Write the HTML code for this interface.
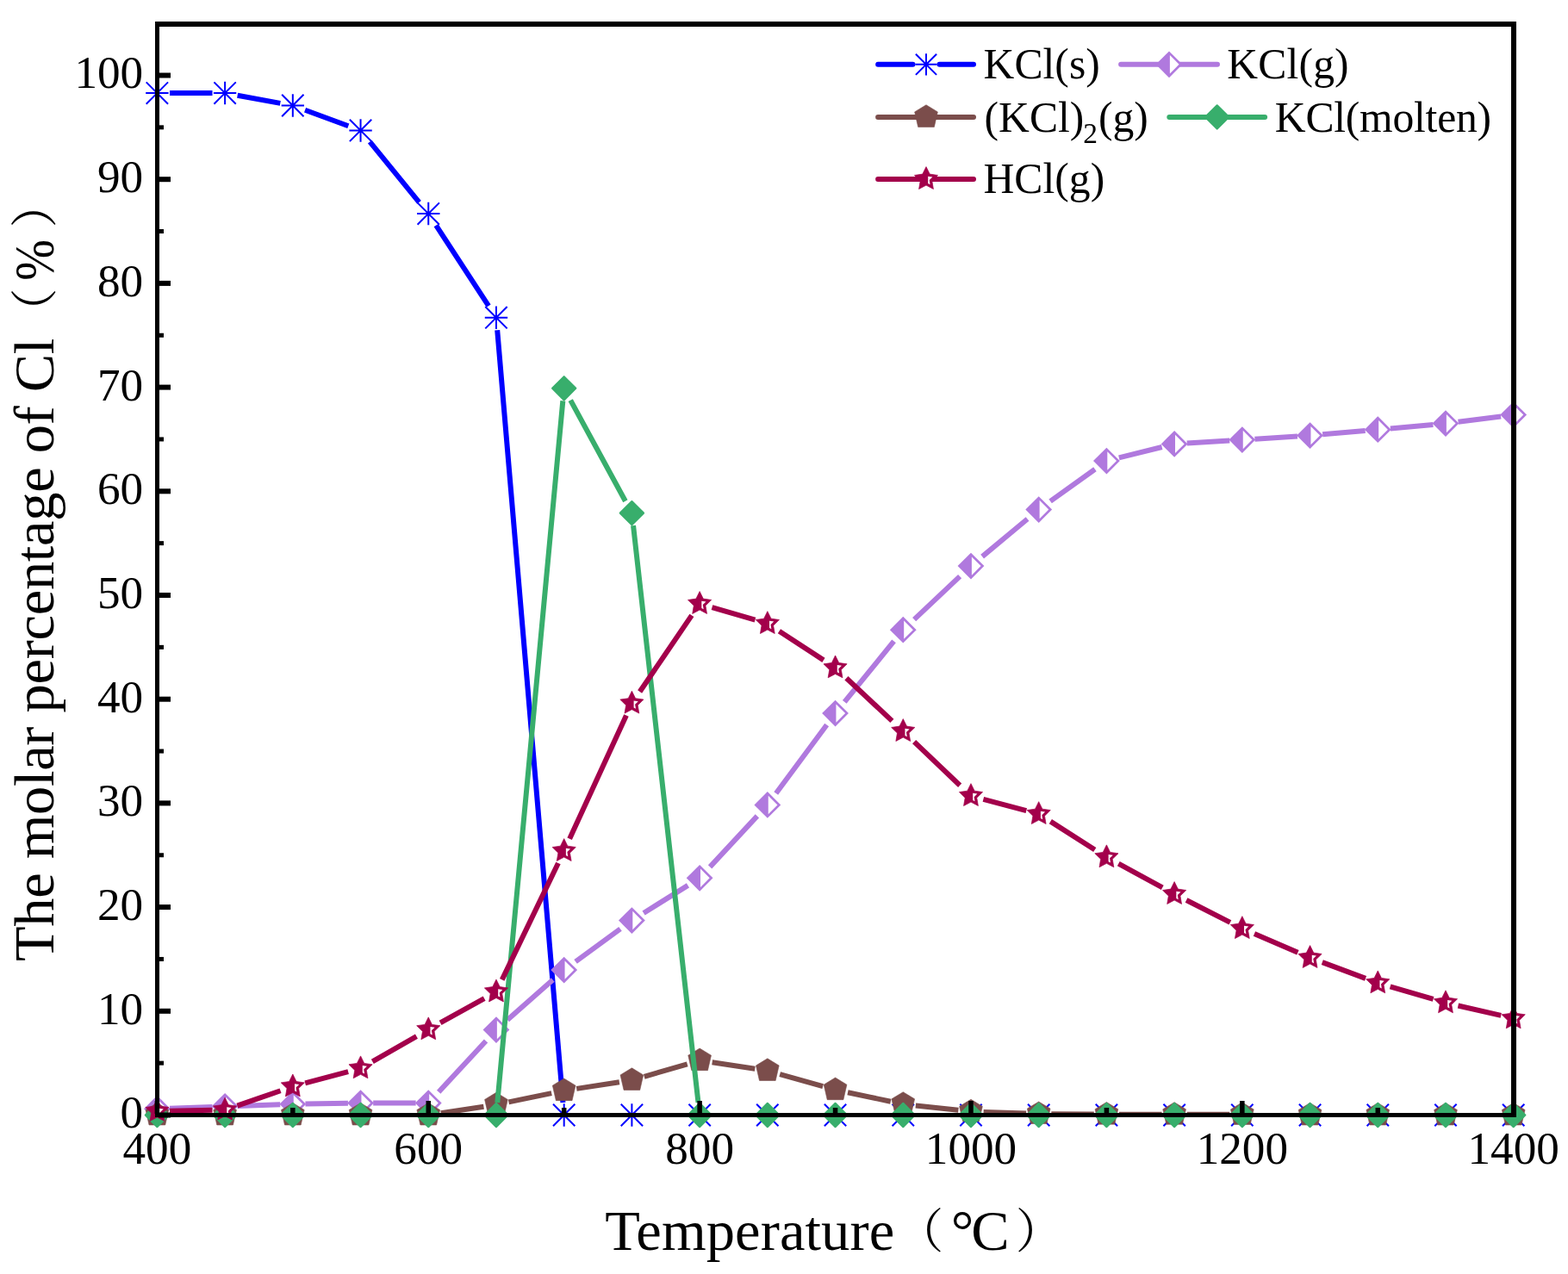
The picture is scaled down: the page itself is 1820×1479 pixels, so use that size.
<!DOCTYPE html>
<html><head><meta charset="utf-8"><title>Molar percentage of Cl vs Temperature</title>
<style>html,body{margin:0;padding:0;background:#fff;}svg{display:block;}</style>
</head><body>
<svg width="1820" height="1479" viewBox="0 0 1820 1479"><rect x="0" y="0" width="1820" height="1479" fill="#fff"/>
<defs><clipPath id="pa"><rect x="182.4" y="27.15" width="1574.3" height="1267.35"/></clipPath></defs>
<path d="M197 108.02L246.52 108.02M275.62 110.69L325.33 119.83M354.06 127.74L404.31 146.23M429.29 164.66L486.51 234.85M506.13 261.63L567.11 355.13M577.21 383.31L653.45 1279.92" stroke="#0000ff" stroke-width="6.0" stroke-linecap="butt" fill="none" clip-path="url(#pa)"/>
<path d="M169.2 108.02L195.6 108.02M182.4 94.82L182.4 121.22M169.73 95.35L195.07 120.69M169.73 120.69L195.07 95.35" stroke="#0000ff" stroke-width="2.0" fill="none"/>
<path d="M247.92 108.02L274.31 108.02M261.12 94.82L261.12 121.22M248.44 95.35L273.79 120.69M248.44 120.69L273.79 95.35" stroke="#0000ff" stroke-width="2.0" fill="none"/>
<path d="M326.63 122.5L353.03 122.5M339.83 109.3L339.83 135.7M327.16 109.83L352.5 135.17M327.16 135.17L352.5 109.83" stroke="#0000ff" stroke-width="2.0" fill="none"/>
<path d="M405.35 151.47L431.75 151.47M418.55 138.27L418.55 164.67M405.87 138.8L431.22 164.14M405.87 164.14L431.22 138.8" stroke="#0000ff" stroke-width="2.0" fill="none"/>
<path d="M484.06 248.03L510.46 248.03M497.26 234.83L497.26 261.23M484.59 235.36L509.93 260.7M484.59 260.7L509.93 235.36" stroke="#0000ff" stroke-width="2.0" fill="none"/>
<path d="M562.77 368.73L589.18 368.73M575.98 355.53L575.98 381.93M563.3 356.06L588.65 381.4M563.3 381.4L588.65 356.06" stroke="#0000ff" stroke-width="2.0" fill="none"/>
<path d="M641.49 1294.5L667.89 1294.5M654.69 1281.3L654.69 1307.7M642.02 1281.83L667.36 1307.17M642.02 1307.17L667.36 1281.83" stroke="#0000ff" stroke-width="2.0" fill="none"/>
<path d="M720.2 1294.5L746.61 1294.5M733.4 1281.3L733.4 1307.7M720.73 1281.83L746.08 1307.17M720.73 1307.17L746.08 1281.83" stroke="#0000ff" stroke-width="2.0" fill="none"/>
<path d="M798.92 1294.5L825.32 1294.5M812.12 1281.3L812.12 1307.7M799.45 1281.83L824.79 1307.17M799.45 1307.17L824.79 1281.83" stroke="#0000ff" stroke-width="2.0" fill="none"/>
<path d="M877.63 1294.5L904.03 1294.5M890.83 1281.3L890.83 1307.7M878.16 1281.83L903.51 1307.17M878.16 1307.17L903.51 1281.83" stroke="#0000ff" stroke-width="2.0" fill="none"/>
<path d="M956.35 1294.5L982.75 1294.5M969.55 1281.3L969.55 1307.7M956.88 1281.83L982.22 1307.17M956.88 1307.17L982.22 1281.83" stroke="#0000ff" stroke-width="2.0" fill="none"/>
<path d="M1035.07 1294.5L1061.47 1294.5M1048.27 1281.3L1048.27 1307.7M1035.59 1281.83L1060.94 1307.17M1035.59 1307.17L1060.94 1281.83" stroke="#0000ff" stroke-width="2.0" fill="none"/>
<path d="M1113.78 1294.5L1140.18 1294.5M1126.98 1281.3L1126.98 1307.7M1114.31 1281.83L1139.65 1307.17M1114.31 1307.17L1139.65 1281.83" stroke="#0000ff" stroke-width="2.0" fill="none"/>
<path d="M1192.49 1294.5L1218.89 1294.5M1205.69 1281.3L1205.69 1307.7M1193.02 1281.83L1218.37 1307.17M1193.02 1307.17L1218.37 1281.83" stroke="#0000ff" stroke-width="2.0" fill="none"/>
<path d="M1271.21 1294.5L1297.61 1294.5M1284.41 1281.3L1284.41 1307.7M1271.74 1281.83L1297.08 1307.17M1271.74 1307.17L1297.08 1281.83" stroke="#0000ff" stroke-width="2.0" fill="none"/>
<path d="M1349.92 1294.5L1376.33 1294.5M1363.12 1281.3L1363.12 1307.7M1350.45 1281.83L1375.8 1307.17M1350.45 1307.17L1375.8 1281.83" stroke="#0000ff" stroke-width="2.0" fill="none"/>
<path d="M1428.64 1294.5L1455.04 1294.5M1441.84 1281.3L1441.84 1307.7M1429.17 1281.83L1454.51 1307.17M1429.17 1307.17L1454.51 1281.83" stroke="#0000ff" stroke-width="2.0" fill="none"/>
<path d="M1507.36 1294.5L1533.76 1294.5M1520.56 1281.3L1520.56 1307.7M1507.88 1281.83L1533.23 1307.17M1507.88 1307.17L1533.23 1281.83" stroke="#0000ff" stroke-width="2.0" fill="none"/>
<path d="M1586.07 1294.5L1612.47 1294.5M1599.27 1281.3L1599.27 1307.7M1586.6 1281.83L1611.94 1307.17M1586.6 1307.17L1611.94 1281.83" stroke="#0000ff" stroke-width="2.0" fill="none"/>
<path d="M1664.79 1294.5L1691.19 1294.5M1677.99 1281.3L1677.99 1307.7M1665.31 1281.83L1690.66 1307.17M1665.31 1307.17L1690.66 1281.83" stroke="#0000ff" stroke-width="2.0" fill="none"/>
<path d="M1743.5 1294.5L1769.9 1294.5M1756.7 1281.3L1756.7 1307.7M1744.03 1281.83L1769.37 1307.17M1744.03 1307.17L1769.37 1281.83" stroke="#0000ff" stroke-width="2.0" fill="none"/>
<path d="M197 1286.72L246.52 1284.9M275.71 1283.89L325.23 1282.3M354.43 1281.6L403.95 1280.84M433.15 1280.62L482.66 1280.62M509.19 1267.72L564.04 1208.43M588.99 1184.05L641.68 1137.6M668.09 1116.32L720 1078.35M747.07 1060L798.45 1027.85M824.08 1006.41L878.87 947.35M900.74 921.07L959.65 841.49M980.26 814.92L1037.55 744.39M1061.12 719.09L1114.12 669.19M1140.12 646.14L1192.55 602.48M1219.13 581.9L1270.97 544.7M1298.83 531.45L1348.7 518.99M1377.71 514.49L1427.25 511.45M1456.43 509.64L1505.97 506.52M1535.13 504.33L1584.69 500M1613.85 497.41L1663.41 492.92M1692.54 489.75L1742.15 483.44" stroke="#b079de" stroke-width="6.0" stroke-linecap="butt" fill="none" clip-path="url(#pa)"/>
<polygon points="182.4,1271.86 197.8,1287.26 182.4,1302.66 167,1287.26" fill="#b079de"/><polygon points="183.3,1276.58 193.98,1287.26 183.3,1297.94" fill="#fff"/>
<polygon points="261.12,1268.96 276.51,1284.36 261.12,1299.76 245.72,1284.36" fill="#b079de"/><polygon points="262.01,1273.68 272.7,1284.36 262.01,1295.04" fill="#fff"/>
<polygon points="339.83,1266.43 355.23,1281.83 339.83,1297.23 324.43,1281.83" fill="#b079de"/><polygon points="340.73,1271.14 351.41,1281.83 340.73,1292.51" fill="#fff"/>
<polygon points="418.55,1265.22 433.94,1280.62 418.55,1296.02 403.15,1280.62" fill="#b079de"/><polygon points="419.44,1269.94 430.13,1280.62 419.44,1291.3" fill="#fff"/>
<polygon points="497.26,1265.22 512.66,1280.62 497.26,1296.02 481.86,1280.62" fill="#b079de"/><polygon points="498.16,1269.94 508.84,1280.62 498.16,1291.3" fill="#fff"/>
<polygon points="575.98,1180.13 591.38,1195.53 575.98,1210.93 560.58,1195.53" fill="#b079de"/><polygon points="576.88,1184.84 587.56,1195.53 576.88,1206.21" fill="#fff"/>
<polygon points="654.69,1110.72 670.09,1126.12 654.69,1141.52 639.29,1126.12" fill="#b079de"/><polygon points="655.59,1115.44 666.27,1126.12 655.59,1136.81" fill="#fff"/>
<polygon points="733.4,1053.15 748.8,1068.55 733.4,1083.95 718,1068.55" fill="#b079de"/><polygon points="734.3,1057.87 744.99,1068.55 734.3,1079.23" fill="#fff"/>
<polygon points="812.12,1003.9 827.52,1019.3 812.12,1034.7 796.72,1019.3" fill="#b079de"/><polygon points="813.02,1008.62 823.7,1019.3 813.02,1029.99" fill="#fff"/>
<polygon points="890.83,919.05 906.23,934.45 890.83,949.85 875.43,934.45" fill="#b079de"/><polygon points="891.73,923.77 902.42,934.45 891.73,945.13" fill="#fff"/>
<polygon points="969.55,812.72 984.95,828.12 969.55,843.52 954.15,828.12" fill="#b079de"/><polygon points="970.45,817.43 981.13,828.12 970.45,838.8" fill="#fff"/>
<polygon points="1048.27,715.79 1063.67,731.19 1048.27,746.59 1032.87,731.19" fill="#b079de"/><polygon points="1049.17,720.51 1059.85,731.19 1049.17,741.87" fill="#fff"/>
<polygon points="1126.98,641.68 1142.38,657.08 1126.98,672.48 1111.58,657.08" fill="#b079de"/><polygon points="1127.88,646.4 1138.56,657.08 1127.88,667.76" fill="#fff"/>
<polygon points="1205.69,576.14 1221.1,591.54 1205.69,606.94 1190.29,591.54" fill="#b079de"/><polygon points="1206.6,580.86 1217.28,591.54 1206.6,602.22" fill="#fff"/>
<polygon points="1284.41,519.66 1299.81,535.06 1284.41,550.46 1269.01,535.06" fill="#b079de"/><polygon points="1285.31,524.37 1295.99,535.06 1285.31,545.74" fill="#fff"/>
<polygon points="1363.12,499.98 1378.53,515.38 1363.12,530.78 1347.72,515.38" fill="#b079de"/><polygon points="1364.03,504.7 1374.71,515.38 1364.03,526.06" fill="#fff"/>
<polygon points="1441.84,495.15 1457.24,510.55 1441.84,525.95 1426.44,510.55" fill="#b079de"/><polygon points="1442.74,499.87 1453.42,510.55 1442.74,521.24" fill="#fff"/>
<polygon points="1520.56,490.2 1535.96,505.6 1520.56,521 1505.15,505.6" fill="#b079de"/><polygon points="1521.46,494.92 1532.14,505.6 1521.46,516.29" fill="#fff"/>
<polygon points="1599.27,483.32 1614.67,498.72 1599.27,514.12 1583.87,498.72" fill="#b079de"/><polygon points="1600.17,488.04 1610.85,498.72 1600.17,509.41" fill="#fff"/>
<polygon points="1677.99,476.2 1693.39,491.6 1677.99,507 1662.59,491.6" fill="#b079de"/><polygon points="1678.89,480.92 1689.57,491.6 1678.89,502.29" fill="#fff"/>
<polygon points="1756.7,466.19 1772.1,481.59 1756.7,496.99 1741.3,481.59" fill="#b079de"/><polygon points="1757.6,470.9 1768.28,481.59 1757.6,492.27" fill="#fff"/>
<path d="M511.79 1292.27L561.44 1284.66M590.45 1279.43L640.21 1269.13M669.22 1263.89L718.87 1256.2M747.77 1249.78L797.75 1235.3M826.65 1233.32L876.3 1240.78M905.21 1247.02L955.17 1261.11M984.02 1268.23L1033.79 1278.76M1062.83 1283.41L1112.41 1288.81M1141.58 1290.89L1191.1 1292.56M1220.29 1293.16L1269.81 1293.54M1299.01 1293.68L1348.53 1293.75M1377.72 1293.8L1427.24 1293.87" stroke="#7b4d4b" stroke-width="6.0" stroke-linecap="butt" fill="none" clip-path="url(#pa)"/>
<polygon points="182.4,1280.4 195.75,1288.5 191.75,1306 173.05,1306 169.05,1288.5" fill="#7b4d4b" stroke="#7b4d4b" stroke-width="0.6" stroke-linejoin="round"/>
<polygon points="261.12,1280.4 274.47,1288.5 270.47,1306 251.77,1306 247.77,1288.5" fill="#7b4d4b" stroke="#7b4d4b" stroke-width="0.6" stroke-linejoin="round"/>
<polygon points="339.83,1280.4 353.18,1288.5 349.18,1306 330.48,1306 326.48,1288.5" fill="#7b4d4b" stroke="#7b4d4b" stroke-width="0.6" stroke-linejoin="round"/>
<polygon points="418.55,1280.4 431.9,1288.5 427.9,1306 409.19,1306 405.19,1288.5" fill="#7b4d4b" stroke="#7b4d4b" stroke-width="0.6" stroke-linejoin="round"/>
<polygon points="497.26,1280.4 510.61,1288.5 506.61,1306 487.91,1306 483.91,1288.5" fill="#7b4d4b" stroke="#7b4d4b" stroke-width="0.6" stroke-linejoin="round"/>
<polygon points="575.98,1268.33 589.33,1276.43 585.33,1293.93 566.62,1293.93 562.62,1276.43" fill="#7b4d4b" stroke="#7b4d4b" stroke-width="0.6" stroke-linejoin="round"/>
<polygon points="654.69,1252.04 668.04,1260.14 664.04,1277.64 645.34,1277.64 641.34,1260.14" fill="#7b4d4b" stroke="#7b4d4b" stroke-width="0.6" stroke-linejoin="round"/>
<polygon points="733.4,1239.84 746.75,1247.94 742.75,1265.44 724.05,1265.44 720.05,1247.94" fill="#7b4d4b" stroke="#7b4d4b" stroke-width="0.6" stroke-linejoin="round"/>
<polygon points="812.12,1217.03 825.47,1225.13 821.47,1242.63 802.77,1242.63 798.77,1225.13" fill="#7b4d4b" stroke="#7b4d4b" stroke-width="0.6" stroke-linejoin="round"/>
<polygon points="890.83,1228.86 904.18,1236.96 900.18,1254.46 881.48,1254.46 877.48,1236.96" fill="#7b4d4b" stroke="#7b4d4b" stroke-width="0.6" stroke-linejoin="round"/>
<polygon points="969.55,1251.07 982.9,1259.17 978.9,1276.67 960.2,1276.67 956.2,1259.17" fill="#7b4d4b" stroke="#7b4d4b" stroke-width="0.6" stroke-linejoin="round"/>
<polygon points="1048.27,1267.73 1061.62,1275.83 1057.62,1293.33 1038.92,1293.33 1034.92,1275.83" fill="#7b4d4b" stroke="#7b4d4b" stroke-width="0.6" stroke-linejoin="round"/>
<polygon points="1126.98,1276.3 1140.33,1284.4 1136.33,1301.9 1117.63,1301.9 1113.63,1284.4" fill="#7b4d4b" stroke="#7b4d4b" stroke-width="0.6" stroke-linejoin="round"/>
<polygon points="1205.69,1278.95 1219.04,1287.05 1215.04,1304.55 1196.35,1304.55 1192.35,1287.05" fill="#7b4d4b" stroke="#7b4d4b" stroke-width="0.6" stroke-linejoin="round"/>
<polygon points="1284.41,1279.56 1297.76,1287.66 1293.76,1305.16 1275.06,1305.16 1271.06,1287.66" fill="#7b4d4b" stroke="#7b4d4b" stroke-width="0.6" stroke-linejoin="round"/>
<polygon points="1363.12,1279.68 1376.47,1287.78 1372.47,1305.28 1353.78,1305.28 1349.78,1287.78" fill="#7b4d4b" stroke="#7b4d4b" stroke-width="0.6" stroke-linejoin="round"/>
<polygon points="1441.84,1279.8 1455.19,1287.9 1451.19,1305.4 1432.49,1305.4 1428.49,1287.9" fill="#7b4d4b" stroke="#7b4d4b" stroke-width="0.6" stroke-linejoin="round"/>
<polygon points="1520.56,1280.4 1533.9,1288.5 1529.9,1306 1511.21,1306 1507.21,1288.5" fill="#7b4d4b" stroke="#7b4d4b" stroke-width="0.6" stroke-linejoin="round"/>
<polygon points="1599.27,1280.4 1612.62,1288.5 1608.62,1306 1589.92,1306 1585.92,1288.5" fill="#7b4d4b" stroke="#7b4d4b" stroke-width="0.6" stroke-linejoin="round"/>
<polygon points="1677.99,1280.4 1691.34,1288.5 1687.34,1306 1668.64,1306 1664.64,1288.5" fill="#7b4d4b" stroke="#7b4d4b" stroke-width="0.6" stroke-linejoin="round"/>
<polygon points="1756.7,1280.4 1770.05,1288.5 1766.05,1306 1747.35,1306 1743.35,1288.5" fill="#7b4d4b" stroke="#7b4d4b" stroke-width="0.6" stroke-linejoin="round"/>
<path d="M577.33 1279.93L653.33 465.38M662.22 464.67L725.87 581.78M735.05 610.21L810.48 1279.94" stroke="#38ae6c" stroke-width="6.0" stroke-linecap="butt" fill="none" clip-path="url(#pa)"/>
<path d="M182.4 1280.9L196 1294.5L182.4 1308.1L168.8 1294.5Z" fill="#38ae6c" stroke="#38ae6c" stroke-width="2.2" stroke-linejoin="round"/>
<path d="M261.12 1280.9L274.72 1294.5L261.12 1308.1L247.52 1294.5Z" fill="#38ae6c" stroke="#38ae6c" stroke-width="2.2" stroke-linejoin="round"/>
<path d="M339.83 1280.9L353.43 1294.5L339.83 1308.1L326.23 1294.5Z" fill="#38ae6c" stroke="#38ae6c" stroke-width="2.2" stroke-linejoin="round"/>
<path d="M418.55 1280.9L432.15 1294.5L418.55 1308.1L404.94 1294.5Z" fill="#38ae6c" stroke="#38ae6c" stroke-width="2.2" stroke-linejoin="round"/>
<path d="M497.26 1280.9L510.86 1294.5L497.26 1308.1L483.66 1294.5Z" fill="#38ae6c" stroke="#38ae6c" stroke-width="2.2" stroke-linejoin="round"/>
<path d="M575.98 1280.9L589.58 1294.5L575.98 1308.1L562.38 1294.5Z" fill="#38ae6c" stroke="#38ae6c" stroke-width="2.2" stroke-linejoin="round"/>
<path d="M654.69 437.21L668.29 450.81L654.69 464.41L641.09 450.81Z" fill="#38ae6c" stroke="#38ae6c" stroke-width="2.2" stroke-linejoin="round"/>
<path d="M733.4 582.05L747 595.65L733.4 609.25L719.8 595.65Z" fill="#38ae6c" stroke="#38ae6c" stroke-width="2.2" stroke-linejoin="round"/>
<path d="M812.12 1280.9L825.72 1294.5L812.12 1308.1L798.52 1294.5Z" fill="#38ae6c" stroke="#38ae6c" stroke-width="2.2" stroke-linejoin="round"/>
<path d="M890.83 1280.9L904.43 1294.5L890.83 1308.1L877.23 1294.5Z" fill="#38ae6c" stroke="#38ae6c" stroke-width="2.2" stroke-linejoin="round"/>
<path d="M969.55 1280.9L983.15 1294.5L969.55 1308.1L955.95 1294.5Z" fill="#38ae6c" stroke="#38ae6c" stroke-width="2.2" stroke-linejoin="round"/>
<path d="M1048.27 1280.9L1061.87 1294.5L1048.27 1308.1L1034.67 1294.5Z" fill="#38ae6c" stroke="#38ae6c" stroke-width="2.2" stroke-linejoin="round"/>
<path d="M1126.98 1280.9L1140.58 1294.5L1126.98 1308.1L1113.38 1294.5Z" fill="#38ae6c" stroke="#38ae6c" stroke-width="2.2" stroke-linejoin="round"/>
<path d="M1205.69 1280.9L1219.29 1294.5L1205.69 1308.1L1192.1 1294.5Z" fill="#38ae6c" stroke="#38ae6c" stroke-width="2.2" stroke-linejoin="round"/>
<path d="M1284.41 1280.9L1298.01 1294.5L1284.41 1308.1L1270.81 1294.5Z" fill="#38ae6c" stroke="#38ae6c" stroke-width="2.2" stroke-linejoin="round"/>
<path d="M1363.12 1280.9L1376.72 1294.5L1363.12 1308.1L1349.53 1294.5Z" fill="#38ae6c" stroke="#38ae6c" stroke-width="2.2" stroke-linejoin="round"/>
<path d="M1441.84 1280.9L1455.44 1294.5L1441.84 1308.1L1428.24 1294.5Z" fill="#38ae6c" stroke="#38ae6c" stroke-width="2.2" stroke-linejoin="round"/>
<path d="M1520.56 1280.9L1534.15 1294.5L1520.56 1308.1L1506.96 1294.5Z" fill="#38ae6c" stroke="#38ae6c" stroke-width="2.2" stroke-linejoin="round"/>
<path d="M1599.27 1280.9L1612.87 1294.5L1599.27 1308.1L1585.67 1294.5Z" fill="#38ae6c" stroke="#38ae6c" stroke-width="2.2" stroke-linejoin="round"/>
<path d="M1677.99 1280.9L1691.59 1294.5L1677.99 1308.1L1664.39 1294.5Z" fill="#38ae6c" stroke="#38ae6c" stroke-width="2.2" stroke-linejoin="round"/>
<path d="M1756.7 1280.9L1770.3 1294.5L1756.7 1308.1L1743.1 1294.5Z" fill="#38ae6c" stroke="#38ae6c" stroke-width="2.2" stroke-linejoin="round"/>
<path d="M197 1289.64L246.52 1288.73M275.39 1283.54L325.55 1266.23M354.23 1257.44L404.15 1244.05M432.34 1232.29L483.46 1203.05M511.09 1187.46L562.14 1159.05M582.72 1137.35L647.95 1001.93M661.14 973.87L726.95 830.58M742.62 803L802.91 714.43M826.48 705.1L876.47 719.74M904.44 732.82L955.95 766.38M982.43 787.29L1035.39 836.83M1061.09 861.11L1114.15 911.72M1141.38 927.79L1191.29 941.11M1219.33 953.65L1270.77 986.47M1298.28 1002.69L1349.26 1030.37M1377.07 1044.99L1427.9 1070.87M1455.95 1084.04L1506.44 1105.8M1534.78 1117.18L1585.04 1135.91M1613.63 1145.4L1663.62 1159.96M1692.44 1167.47L1742.25 1178.93" stroke="#a3004b" stroke-width="6.0" stroke-linecap="butt" fill="none" clip-path="url(#pa)"/>
<polygon points="182.4,1275.61 186.6,1284.13 196,1285.49 189.2,1292.12 190.81,1301.48 182.4,1297.06 173.99,1301.48 175.6,1292.12 168.8,1285.49 178.2,1284.13" fill="#a3004b" stroke="#a3004b" stroke-width="0.7" stroke-linejoin="round"/><polygon points="184.6,1286.62 184.68,1286.78 189.77,1287.52 186.08,1291.11 186.95,1296.18 184.6,1294.94" fill="#fff"/>
<polygon points="261.12,1274.16 265.32,1282.68 274.72,1284.05 267.92,1290.67 269.52,1300.03 261.12,1295.62 252.71,1300.03 254.31,1290.67 247.51,1284.05 256.91,1282.68" fill="#a3004b" stroke="#a3004b" stroke-width="0.7" stroke-linejoin="round"/><polygon points="263.31,1285.18 263.39,1285.33 268.48,1286.07 264.8,1289.66 265.67,1294.73 263.31,1293.5" fill="#fff"/>
<polygon points="339.83,1247.01 344.03,1255.52 353.43,1256.89 346.63,1263.52 348.24,1272.88 339.83,1268.46 331.42,1272.88 333.03,1263.52 326.23,1256.89 335.63,1255.52" fill="#a3004b" stroke="#a3004b" stroke-width="0.7" stroke-linejoin="round"/><polygon points="342.03,1258.02 342.11,1258.17 347.2,1258.91 343.51,1262.5 344.38,1267.58 342.03,1266.34" fill="#fff"/>
<polygon points="418.55,1225.88 422.75,1234.4 432.15,1235.77 425.35,1242.39 426.95,1251.75 418.55,1247.34 410.14,1251.75 411.74,1242.39 404.94,1235.77 414.34,1234.4" fill="#a3004b" stroke="#a3004b" stroke-width="0.7" stroke-linejoin="round"/><polygon points="420.75,1236.9 420.82,1237.05 425.91,1237.79 422.23,1241.38 423.1,1246.45 420.75,1245.22" fill="#fff"/>
<polygon points="497.26,1180.86 501.46,1189.38 510.86,1190.74 504.06,1197.37 505.67,1206.73 497.26,1202.31 488.85,1206.73 490.46,1197.37 483.66,1190.74 493.06,1189.38" fill="#a3004b" stroke="#a3004b" stroke-width="0.7" stroke-linejoin="round"/><polygon points="499.46,1191.87 499.54,1192.03 504.63,1192.77 500.94,1196.36 501.81,1201.43 499.46,1200.19" fill="#fff"/>
<polygon points="575.98,1137.05 580.18,1145.57 589.58,1146.93 582.78,1153.56 584.38,1162.92 575.98,1158.5 567.57,1162.92 569.17,1153.56 562.37,1146.93 571.77,1145.57" fill="#a3004b" stroke="#a3004b" stroke-width="0.7" stroke-linejoin="round"/><polygon points="578.18,1148.06 578.25,1148.22 583.34,1148.96 579.66,1152.55 580.53,1157.62 578.18,1156.38" fill="#fff"/>
<polygon points="654.69,973.62 658.89,982.14 668.29,983.5 661.49,990.13 663.1,999.49 654.69,995.07 646.28,999.49 647.89,990.13 641.09,983.5 650.49,982.14" fill="#a3004b" stroke="#a3004b" stroke-width="0.7" stroke-linejoin="round"/><polygon points="656.89,984.63 656.97,984.79 662.06,985.53 658.37,989.12 659.24,994.19 656.89,992.95" fill="#fff"/>
<polygon points="733.4,802.23 737.61,810.74 747.01,812.11 740.21,818.74 741.81,828.1 733.4,823.68 725,828.1 726.6,818.74 719.8,812.11 729.2,810.74" fill="#a3004b" stroke="#a3004b" stroke-width="0.7" stroke-linejoin="round"/><polygon points="735.61,813.24 735.68,813.39 740.77,814.13 737.09,817.73 737.96,822.8 735.61,821.56" fill="#fff"/>
<polygon points="812.12,686.6 816.32,695.11 825.72,696.48 818.92,703.11 820.53,712.47 812.12,708.05 803.71,712.47 805.32,703.11 798.52,696.48 807.92,695.11" fill="#a3004b" stroke="#a3004b" stroke-width="0.7" stroke-linejoin="round"/><polygon points="814.32,697.61 814.4,697.76 819.49,698.5 815.8,702.09 816.67,707.17 814.32,705.93" fill="#fff"/>
<polygon points="890.83,709.65 895.04,718.17 904.44,719.53 897.64,726.16 899.24,735.52 890.83,731.1 882.43,735.52 884.03,726.16 877.23,719.53 886.63,718.17" fill="#a3004b" stroke="#a3004b" stroke-width="0.7" stroke-linejoin="round"/><polygon points="893.03,720.66 893.11,720.82 898.2,721.56 894.52,725.15 895.39,730.22 893.03,728.98" fill="#fff"/>
<polygon points="969.55,760.95 973.75,769.46 983.15,770.83 976.35,777.46 977.96,786.82 969.55,782.4 961.14,786.82 962.75,777.46 955.95,770.83 965.35,769.46" fill="#a3004b" stroke="#a3004b" stroke-width="0.7" stroke-linejoin="round"/><polygon points="971.75,771.96 971.83,772.11 976.92,772.85 973.23,776.45 974.1,781.52 971.75,780.28" fill="#fff"/>
<polygon points="1048.27,834.58 1052.47,843.09 1061.87,844.46 1055.07,851.09 1056.67,860.44 1048.27,856.03 1039.86,860.44 1041.46,851.09 1034.66,844.46 1044.06,843.09" fill="#a3004b" stroke="#a3004b" stroke-width="0.7" stroke-linejoin="round"/><polygon points="1050.47,845.59 1050.54,845.74 1055.63,846.48 1051.95,850.07 1052.82,855.14 1050.47,853.91" fill="#fff"/>
<polygon points="1126.98,909.65 1131.18,918.17 1140.58,919.53 1133.78,926.16 1135.39,935.52 1126.98,931.1 1118.57,935.52 1120.18,926.16 1113.38,919.53 1122.78,918.17" fill="#a3004b" stroke="#a3004b" stroke-width="0.7" stroke-linejoin="round"/><polygon points="1129.18,920.66 1129.26,920.82 1134.35,921.56 1130.66,925.15 1131.53,930.22 1129.18,928.98" fill="#fff"/>
<polygon points="1205.69,930.65 1209.9,939.17 1219.3,940.53 1212.5,947.16 1214.1,956.52 1205.69,952.1 1197.29,956.52 1198.89,947.16 1192.09,940.53 1201.49,939.17" fill="#a3004b" stroke="#a3004b" stroke-width="0.7" stroke-linejoin="round"/><polygon points="1207.89,941.66 1207.97,941.82 1213.06,942.56 1209.38,946.15 1210.25,951.22 1207.89,949.98" fill="#fff"/>
<polygon points="1284.41,980.86 1288.61,989.38 1298.01,990.75 1291.21,997.37 1292.82,1006.73 1284.41,1002.31 1276,1006.73 1277.61,997.37 1270.81,990.75 1280.21,989.38" fill="#a3004b" stroke="#a3004b" stroke-width="0.7" stroke-linejoin="round"/><polygon points="1286.61,991.87 1286.69,992.03 1291.78,992.77 1288.09,996.36 1288.96,1001.43 1286.61,1000.19" fill="#fff"/>
<polygon points="1363.12,1023.59 1367.33,1032.11 1376.73,1033.47 1369.93,1040.1 1371.53,1049.46 1363.12,1045.04 1354.72,1049.46 1356.32,1040.1 1349.52,1033.47 1358.92,1032.11" fill="#a3004b" stroke="#a3004b" stroke-width="0.7" stroke-linejoin="round"/><polygon points="1365.33,1034.6 1365.4,1034.76 1370.49,1035.5 1366.81,1039.09 1367.68,1044.16 1365.33,1042.92" fill="#fff"/>
<polygon points="1441.84,1063.66 1446.04,1072.18 1455.44,1073.55 1448.64,1080.17 1450.25,1089.53 1441.84,1085.11 1433.43,1089.53 1435.04,1080.17 1428.24,1073.55 1437.64,1072.18" fill="#a3004b" stroke="#a3004b" stroke-width="0.7" stroke-linejoin="round"/><polygon points="1444.04,1074.67 1444.12,1074.83 1449.21,1075.57 1445.52,1079.16 1446.39,1084.23 1444.04,1082.99" fill="#fff"/>
<polygon points="1520.56,1097.58 1524.76,1106.1 1534.16,1107.46 1527.36,1114.09 1528.96,1123.45 1520.56,1119.03 1512.15,1123.45 1513.75,1114.09 1506.95,1107.46 1516.35,1106.1" fill="#a3004b" stroke="#a3004b" stroke-width="0.7" stroke-linejoin="round"/><polygon points="1522.76,1108.59 1522.83,1108.75 1527.92,1109.49 1524.24,1113.08 1525.11,1118.15 1522.76,1116.91" fill="#fff"/>
<polygon points="1599.27,1126.91 1603.47,1135.43 1612.87,1136.79 1606.07,1143.42 1607.68,1152.78 1599.27,1148.36 1590.86,1152.78 1592.47,1143.42 1585.67,1136.79 1595.07,1135.43" fill="#a3004b" stroke="#a3004b" stroke-width="0.7" stroke-linejoin="round"/><polygon points="1601.47,1137.92 1601.55,1138.08 1606.64,1138.82 1602.95,1142.41 1603.82,1147.48 1601.47,1146.24" fill="#fff"/>
<polygon points="1677.99,1149.84 1682.19,1158.36 1691.59,1159.73 1684.79,1166.35 1686.39,1175.71 1677.99,1171.29 1669.58,1175.71 1671.18,1166.35 1664.38,1159.73 1673.78,1158.36" fill="#a3004b" stroke="#a3004b" stroke-width="0.7" stroke-linejoin="round"/><polygon points="1680.19,1160.85 1680.26,1161.01 1685.35,1161.75 1681.67,1165.34 1682.54,1170.41 1680.19,1169.17" fill="#fff"/>
<polygon points="1756.7,1167.95 1760.9,1176.46 1770.3,1177.83 1763.5,1184.46 1765.11,1193.82 1756.7,1189.4 1748.29,1193.82 1749.9,1184.46 1743.1,1177.83 1752.5,1176.46" fill="#a3004b" stroke="#a3004b" stroke-width="0.7" stroke-linejoin="round"/><polygon points="1758.9,1178.96 1758.98,1179.12 1764.07,1179.85 1760.38,1183.45 1761.25,1188.52 1758.9,1187.28" fill="#fff"/>
<g fill="#000"><rect x="180" y="25" width="5" height="1272"/><rect x="180" y="1292" width="1580" height="5"/><rect x="180" y="25" width="1580" height="6"/><rect x="1754" y="25" width="6" height="1272"/><rect x="184" y="1291.5" width="14" height="6"/><rect x="184" y="1231.65" width="6" height="5"/><rect x="184" y="1170.8" width="14" height="6"/><rect x="184" y="1110.95" width="6" height="5"/><rect x="184" y="1050.1" width="14" height="6"/><rect x="184" y="990.25" width="6" height="5"/><rect x="184" y="929.4" width="14" height="6"/><rect x="184" y="869.55" width="6" height="5"/><rect x="184" y="808.7" width="14" height="6"/><rect x="184" y="748.85" width="6" height="5"/><rect x="184" y="688" width="14" height="6"/><rect x="184" y="628.15" width="6" height="5"/><rect x="184" y="567.3" width="14" height="6"/><rect x="184" y="507.45" width="6" height="5"/><rect x="184" y="446.6" width="14" height="6"/><rect x="184" y="386.75" width="6" height="5"/><rect x="184" y="325.9" width="14" height="6"/><rect x="184" y="266.05" width="6" height="5"/><rect x="184" y="205.2" width="14" height="6"/><rect x="184" y="145.35" width="6" height="5"/><rect x="184" y="84.5" width="14" height="6"/><rect x="179.65" y="1278" width="5.5" height="15"/><rect x="337.08" y="1286" width="5.5" height="7"/><rect x="494.51" y="1278" width="5.5" height="15"/><rect x="651.94" y="1286" width="5.5" height="7"/><rect x="809.37" y="1278" width="5.5" height="15"/><rect x="966.8" y="1286" width="5.5" height="7"/><rect x="1124.23" y="1278" width="5.5" height="15"/><rect x="1281.66" y="1286" width="5.5" height="7"/><rect x="1439.09" y="1278" width="5.5" height="15"/><rect x="1596.52" y="1286" width="5.5" height="7"/><rect x="1753.95" y="1278" width="5.5" height="15"/></g>
<g style="font-family:'Liberation Serif','Times New Roman',serif;font-size:53.2px" fill="#000"><text x="166.2" y="1309.4" text-anchor="end">0</text><text x="166.2" y="1188.7" text-anchor="end">10</text><text x="166.2" y="1068" text-anchor="end">20</text><text x="166.2" y="947.3" text-anchor="end">30</text><text x="166.2" y="826.6" text-anchor="end">40</text><text x="166.2" y="705.9" text-anchor="end">50</text><text x="166.2" y="585.2" text-anchor="end">60</text><text x="166.2" y="464.5" text-anchor="end">70</text><text x="166.2" y="343.8" text-anchor="end">80</text><text x="166.2" y="223.1" text-anchor="end">90</text><text x="166.2" y="102.4" text-anchor="end">100</text><text x="182.4" y="1351.4" text-anchor="middle">400</text><text x="497.26" y="1351.4" text-anchor="middle">600</text><text x="812.12" y="1351.4" text-anchor="middle">800</text><text x="1126.98" y="1351.4" text-anchor="middle">1000</text><text x="1441.84" y="1351.4" text-anchor="middle">1200</text><text x="1756.7" y="1351.4" text-anchor="middle">1400</text></g>
<g transform="translate(61.9 1116.1) rotate(-90)" fill="#000"><text x="0" y="0" textLength="723.4" lengthAdjust="spacing" style="font-family:'Liberation Serif','Times New Roman',serif;font-size:66.5px">The molar percentage of Cl</text><text x="726.6" y="-3.05" style="font-family:'Liberation Serif','Noto Serif CJK SC',serif;font-size:55px">（</text><text x="851.63" y="-3.05" style="font-family:'Liberation Serif','Noto Serif CJK SC',serif;font-size:55px">）</text><text transform="translate(790.35 0) scale(0.86 1)" x="0" y="0" style="font-family:'Liberation Serif','Times New Roman',serif;font-size:66.5px">%</text></g>
<g fill="#000"><text x="702.2" y="1451.2" textLength="336.01" lengthAdjust="spacing" style="font-family:'Liberation Serif','Times New Roman',serif;font-size:66.5px">Temperature</text><text x="1040.19" y="1448.3" style="font-family:'Liberation Serif','Noto Serif CJK SC',serif;font-size:55px">（</text><text x="1103.82" y="1451.2" style="font-family:'Liberation Serif','Times New Roman',serif;font-size:66.5px">°</text><text x="1127.17" y="1451.2" style="font-family:'Liberation Serif','Times New Roman',serif;font-size:66.5px">C</text><text x="1178.63" y="1448.3" style="font-family:'Liberation Serif','Noto Serif CJK SC',serif;font-size:55px">）</text></g>
<path d="M1019.1 74.8H1059.5M1090.5 74.8H1130" stroke="#0000ff" stroke-width="6" stroke-linecap="round"/>
<path d="M1062.4 74.8L1087.6 74.8M1075 62.2L1075 87.4M1062.9 62.7L1087.1 86.9M1062.9 86.9L1087.1 62.7" stroke="#0000ff" stroke-width="2.0" fill="none"/>
<path d="M1301.1 74.8H1413" stroke="#b079de" stroke-width="6" stroke-linecap="round"/>
<polygon points="1357,59.4 1372.4,74.8 1357,90.2 1341.6,74.8" fill="#b079de"/><polygon points="1357.9,64.12 1368.58,74.8 1357.9,85.48" fill="#fff"/>
<path d="M1019.1 135.9H1130" stroke="#7b4d4b" stroke-width="6" stroke-linecap="round"/>
<polygon points="1075,121.8 1088.35,129.9 1084.35,147.4 1065.65,147.4 1061.65,129.9" fill="#7b4d4b" stroke="#7b4d4b" stroke-width="0.6" stroke-linejoin="round"/>
<path d="M1357.3 135.9H1468.1" stroke="#38ae6c" stroke-width="6" stroke-linecap="round"/>
<path d="M1412.7 122.3L1426.3 135.9L1412.7 149.5L1399.1 135.9Z" fill="#38ae6c" stroke="#38ae6c" stroke-width="2.2" stroke-linejoin="round"/>
<path d="M1019.1 207.9H1130" stroke="#a3004b" stroke-width="6" stroke-linecap="round"/>
<polygon points="1075,193.6 1079.2,202.12 1088.6,203.48 1081.8,210.11 1083.41,219.47 1075,215.05 1066.59,219.47 1068.2,210.11 1061.4,203.48 1070.8,202.12" fill="#a3004b" stroke="#a3004b" stroke-width="0.7" stroke-linejoin="round"/><polygon points="1077.2,204.61 1077.28,204.77 1082.37,205.51 1078.68,209.1 1079.55,214.17 1077.2,212.93" fill="#fff"/>
<g style="font-family:'Liberation Serif','Times New Roman',serif;font-size:49.6px" fill="#000"><text x="1141.57" y="90.8" textLength="135.21" lengthAdjust="spacing">KCl(s)</text><text x="1424.37" y="90.6" textLength="141.21" lengthAdjust="spacing">KCl(g)</text><text x="1142.62" y="153.3">(KCl)</text><text x="1257.23" y="166" style="font-size:33.5px">2</text><text x="1274.92" y="153.3">(g)</text><text x="1479.77" y="153" textLength="251.31" lengthAdjust="spacing">KCl(molten)</text><text x="1141.47" y="224" textLength="140.71" lengthAdjust="spacing">HCl(g)</text></g></svg>
</body></html>
